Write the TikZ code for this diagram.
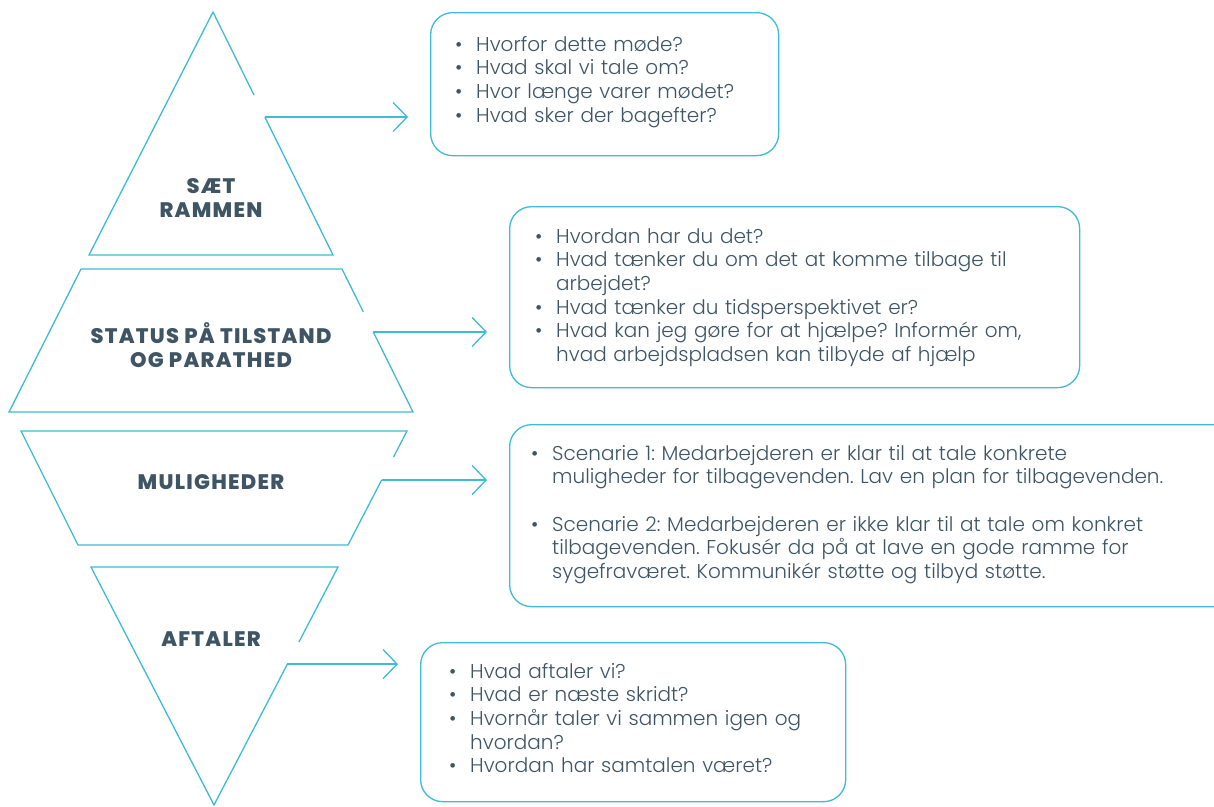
\documentclass[tikz,border=0pt]{standalone}
\usepackage{fontspec}
\setmainfont{Poppins}
\newfontfamily\bodyfont{Poppins Light}
\newfontfamily\labelfont{Poppins ExtraBold}[LetterSpace=6]
\usetikzlibrary{arrows.meta,calc}
\definecolor{lineblue}{HTML}{3DBCD4}
\definecolor{txt}{HTML}{3F5564}
\newcommand\bitem[1]{\par\hangindent=21pt\hangafter=1\noindent\makebox[21pt][l]{•}#1}
\newcommand\bitemfirst[1]{\hangindent=21pt\hangafter=1\noindent\rule{0pt}{15pt}\makebox[21pt][l]{•}#1}
\tikzset{
  shapeline/.style={draw=lineblue, line width=1.3pt, line join=miter},
  conn/.style={draw=lineblue, line width=1.3pt, -{Straight Barb[length=14pt,width=29pt]}, shorten >=22pt},
  box/.style={draw=lineblue, line width=1.3pt, rounded corners=22pt, inner sep=0pt, anchor=north west},
  lab/.style={font=\labelfont\fontsize{21}{24.5}\selectfont, align=center, text=txt, inner sep=0pt},
  bodytext/.style={font=\bodyfont\fontsize{20}{23.6}\selectfont\frenchspacing, text=txt, text width=760pt, inner sep=0pt, anchor=north west}
}
\begin{document}
\begin{tikzpicture}[x=1pt,y=-1pt]
\useasboundingbox[fill=white] (0,0) rectangle (1214,806);
\clip (0,0) rectangle (1214,806);

% shape 1: triangle
\coordinate (s1a) at (213,12);
\coordinate (s1b) at (89,255);
\coordinate (s1c) at (333,255);
\coordinate (g1a) at ($(s1a)!0.342!(s1c)$);
\coordinate (c1) at ($(s1a)!0.432!(s1c)$);
\draw[shapeline] (g1a) -- (s1a) -- (s1b) -- (s1c) -- (c1);

% shape 2: trapezoid
\coordinate (s2a) at (342,269);
\coordinate (s2b) at (81,269);
\coordinate (s2c) at (9,412);
\coordinate (s2d) at (413,412);
\coordinate (g2a) at ($(s2a)!0.30!(s2d)$);
\coordinate (c2) at ($(s2a)!0.44!(s2d)$);
\draw[shapeline] (g2a) -- (s2a) -- (s2b) -- (s2c) -- (s2d) -- (c2);

% shape 3: inverted trapezoid
\coordinate (s3a) at (407,431);
\coordinate (s3b) at (21,431);
\coordinate (s3c) at (78,545);
\coordinate (s3d) at (348,545);
\coordinate (g3a) at ($(s3a)!0.228!(s3d)$);
\coordinate (c3) at ($(s3a)!0.43!(s3d)$);
\draw[shapeline] (g3a) -- (s3a) -- (s3b) -- (s3c) -- (s3d) -- (c3);

% shape 4: inverted triangle
\coordinate (s4a) at (338,567);
\coordinate (s4b) at (91,567);
\coordinate (s4c) at (214,805);
\coordinate (g4a) at ($(s4a)!0.315!(s4c)$);
\coordinate (c4) at ($(s4a)!0.408!(s4c)$);
\draw[shapeline] (g4a) -- (s4a) -- (s4b) -- (s4c) -- (c4);

% labels
\node[lab] (l1) at (211,198) {SÆT\\RAMMEN};
\node[lab] (l2) at (211,345) {STATUS PÅ TILSTAND\\OG PARATHED};
\node[lab] (l3) at (211,482.5) {MULIGHEDER};
\node[lab] (l4) at (211,639) {AFTALER};

% boxes
\node[box, minimum width=348pt, minimum height=143pt] (b1) at (430,12) {};
\node[box, minimum width=570pt, minimum height=181pt] (b2) at (509,206) {};
\node[box, minimum width=740pt, minimum height=182pt] (b3) at (509,424) {};
\node[box, minimum width=425pt, minimum height=159pt] (b4) at (420,642) {};

% box texts
\node[bodytext] (t1) at (455,36) {\bitemfirst{Hvorfor dette møde?}\bitem{Hvad skal vi tale om?}\bitem{Hvor længe varer mødet?}\bitem{Hvad sker der bagefter?}\par};
\node[bodytext] (t2) at (535,228) {\bitemfirst{Hvordan har du det?}\bitem{Hvad tænker du om det at komme tilbage til\newline arbejdet?}\bitem{Hvad tænker du tidsperspektivet er?}\bitem{Hvad kan jeg gøre for at hjælpe? Informér om,\newline hvad arbejdspladsen kan tilbyde af hjælp}\par};
\node[bodytext] (t3) at (531,445) {\bitemfirst{Scenarie 1: Medarbejderen er klar til at tale konkrete\newline muligheder for tilbagevenden. Lav en plan for tilbagevenden.}\par\vspace{23.6pt}\bitem{Scenarie 2: Medarbejderen er ikke klar til at tale om konkret\newline tilbagevenden. Fokusér da på at lave en gode ramme for\newline sygefraværet. Kommunikér støtte og tilbyd støtte.}\par};
\node[bodytext] (t4) at (449,663) {\bitemfirst{Hvad aftaler vi?}\bitem{Hvad er næste skridt?}\bitem{Hvornår taler vi sammen igen og\newline hvordan?}\bitem{Hvordan har samtalen været?}\par};

% connectors
\draw[conn] (c1) -- (c1 -| b1.west);
\draw[conn] (c2) -- (c2 -| b2.west);
\draw[conn] (c3) -- (c3 -| b3.west);
\draw[conn] (c4) -- (c4 -| b4.west);
\end{tikzpicture}
\end{document}
